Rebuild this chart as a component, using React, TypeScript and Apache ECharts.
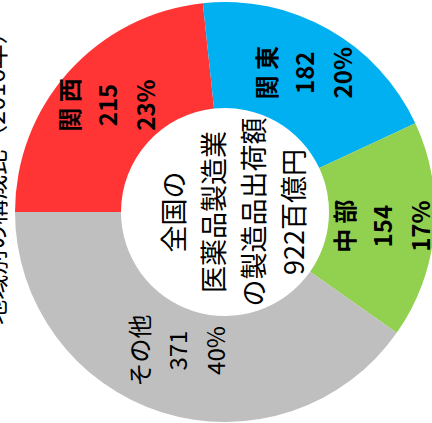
import React, { useEffect, useRef } from "react";
import * as echarts from "echarts";

const regions = ["関西", "関東", "中部", "その他"];
const values = [215, 182, 154, 371];
const colors = ["#FF3535", "#00B0F0", "#92D050", "#BFBFBF"];
const boldLabel = [true, true, true, false];
const centerLines = ["全国の", "医薬品製造業", "の製造品出荷額", "922百億円"];
const sideTitle = "地域別の構成比（2016年）";

const FONT = '"Noto Sans CJK JP", "Noto Sans", sans-serif';

export default function App() {
  const ref = useRef<HTMLDivElement>(null);
  useEffect(() => {
    if (!ref.current) return;
    const chart = echarts.init(ref.current, undefined, { renderer: "svg" });
    chart.setOption({
      animation: false,
      backgroundColor: "#ffffff",
      series: [
        {
          type: "pie",
          center: [225, 212],
          radius: [104, 210],
          startAngle: 180,
          clockwise: true,
          percentPrecision: 0,
          avoidLabelOverlap: false,
          itemStyle: { borderWidth: 0 },
          emphasis: { disabled: true },
          labelLine: { show: false },
          label: {
            show: true,
            position: "inside",
            rotate: 90,
            color: "#000",
            fontFamily: FONT,
            fontSize: 24,
            lineHeight: 38,
            align: "center",
            formatter: (p: any) => {
              const n = p.name.length === 2 ? p.name.split("").join(" ") : p.name;
              return `${n}\n${p.value}\n${p.percent}%`;
            },
          },
          data: regions.map((r, i) => ({
            name: r,
            value: values[i],
            itemStyle: { color: colors[i] },
            label: {
              fontWeight: boldLabel[i] ? "bold" : "normal",
              offset: i === 3 ? [14, 0] : i === 2 ? [0, -3] : [0, 0],
            },
          })),
        },
      ],
      graphic: [
        {
          type: "text",
          x: 232,
          y: 212,
          rotation: Math.PI / 2,
          style: {
            text: centerLines.join("\n"),
            fontFamily: FONT,
            fontSize: 27,
            lineHeight: 40,
            fill: "#000",
            align: "center",
            verticalAlign: "middle",
          },
        },
        {
          type: "text",
          x: -6,
          y: 172,
          rotation: Math.PI / 2,
          style: {
            text: sideTitle,
            fontFamily: FONT,
            fontSize: 25,
            fill: "#000",
            align: "center",
            verticalAlign: "middle",
          },
        },
      ],
    });
    return () => chart.dispose();
  }, []);
  return (
    <div
      ref={ref}
      style={{ position: "fixed", left: 0, top: 0, width: 432, height: 423 }}
    />
  );
}
